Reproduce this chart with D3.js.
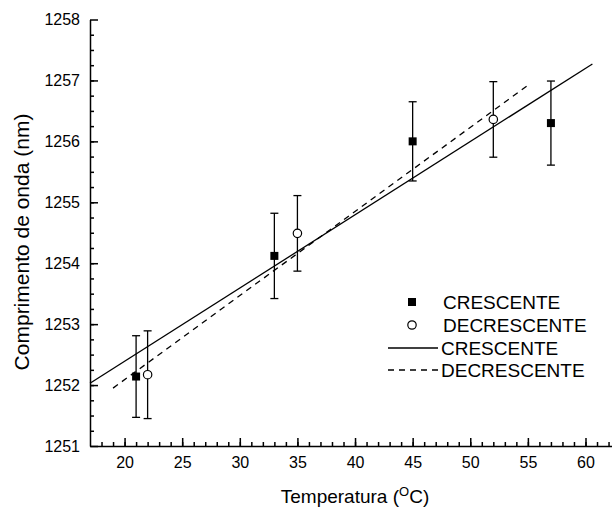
<!DOCTYPE html>
<html>
<head>
<meta charset="utf-8">
<script src="https://cdn.jsdelivr.net/npm/d3@7"></script>
<style>
  body { margin: 0; background: #fff; }
  svg { display: block; }
  .axis path, .axis line { stroke: #000; stroke-width: 1.5; }
  .axis text { font-family: "Liberation Sans", Arial, sans-serif; font-size: 16px; fill: #000; }
</style>
</head>
<body>
<div class="chart"></div>
<script>
// temperatures and wavelengths
var tempCresc = [21, 33, 45, 57];
var lambdaCresc = [1252.14, 1254.12, 1256.0, 1256.30];
var errCresc = [0.67, 0.70, 0.65, 0.69];

var tempDecresc = [22, 35, 52];
var lambdaDecresc = [1252.17, 1254.49, 1256.36];
var errDecresc = [0.72, 0.62, 0.62];

// fitted lines, endpoints as drawn
var fitCrescX = [17, 60.6];
var fitCrescY = [1252.03, 1257.27];
var fitDecrescX = [19, 55];
var fitDecrescY = [1251.95, 1256.92];

var xMajor = [20, 25, 30, 35, 40, 45, 50, 55, 60];
var yMajor = [1251, 1252, 1253, 1254, 1255, 1256, 1257, 1258];

var legendLabels = ['CRESCENTE', 'DECRESCENTE', 'CRESCENTE', 'DECRESCENTE'];

var width = 612, height = 509;
var plotLeft = 90, plotRight = 612, plotTop = 19.5, plotBottom = 446;

var x = d3.scaleLinear().domain([17, 62.3]).range([plotLeft, plotRight]);
var y = d3.scaleLinear().domain([1251, 1258]).range([plotBottom, plotTop]);

var svg = d3.select('.chart').append('svg')
  .attr('width', width)
  .attr('height', height);

var font = '"Liberation Sans", Arial, sans-serif';

// minor ticks
svg.append('g')
  .attr('class', 'axis')
  .attr('transform', 'translate(0,' + plotBottom + ')')
  .call(d3.axisBottom(x).tickValues(d3.range(18, 63, 1)).tickSize(-4).tickFormat(''))
  .select('.domain').remove();

svg.append('g')
  .attr('class', 'axis')
  .attr('transform', 'translate(' + plotLeft + ',0)')
  .call(d3.axisLeft(y).tickValues(d3.range(1251.25, 1258, 0.25)).tickSize(-4).tickFormat(''))
  .select('.domain').remove();

// major axes
svg.append('g')
  .attr('class', 'axis')
  .attr('transform', 'translate(0,' + plotBottom + ')')
  .call(d3.axisBottom(x).tickValues(xMajor).tickSizeInner(-8).tickSizeOuter(0).tickPadding(11).tickFormat(d3.format('d')));

svg.append('g')
  .attr('class', 'axis')
  .attr('transform', 'translate(' + plotLeft + ',0)')
  .call(d3.axisLeft(y).tickValues(yMajor).tickSizeInner(-8).tickSizeOuter(0).tickPadding(10).tickFormat(d3.format('d')));

// axis titles
var xt = svg.append('text')
  .attr('x', 355)
  .attr('y', 503)
  .attr('text-anchor', 'middle')
  .style('font-family', font)
  .style('font-size', '19px')
  .text('Temperatura (');
xt.append('tspan').attr('dy', -7).style('font-size', '13px').text('O');
xt.append('tspan').attr('dy', 7).text('C)');

svg.append('text')
  .attr('transform', 'translate(29,242) rotate(-90)')
  .attr('text-anchor', 'middle')
  .style('font-family', font)
  .style('font-size', '21px')
  .text('Comprimento de onda (nm)');

// fit lines
var line = d3.line()
  .x(function(d) { return x(d[0]); })
  .y(function(d) { return y(d[1]); });

svg.append('path')
  .datum(d3.zip(fitCrescX, fitCrescY))
  .attr('d', line)
  .attr('fill', 'none')
  .attr('stroke', '#000')
  .attr('stroke-width', 1.3);

svg.append('path')
  .datum(d3.zip(fitDecrescX, fitDecrescY))
  .attr('d', line)
  .attr('fill', 'none')
  .attr('stroke', '#000')
  .attr('stroke-width', 1.3)
  .attr('stroke-dasharray', '6,5');

// error bars
function errorBars(xs, ys, es) {
  var g = svg.append('g');
  var pts = d3.range(xs.length).map(function(i) {
    return {t: xs[i], v: ys[i], e: es[i]};
  });
  g.selectAll('.bar').data(pts).enter().append('line')
    .attr('x1', function(d) { return x(d.t); })
    .attr('x2', function(d) { return x(d.t); })
    .attr('y1', function(d) { return y(d.v + d.e); })
    .attr('y2', function(d) { return y(d.v - d.e); })
    .attr('stroke', '#000').attr('stroke-width', 1.3);
  g.selectAll('.capTop').data(pts).enter().append('line')
    .attr('x1', function(d) { return x(d.t) - 4; })
    .attr('x2', function(d) { return x(d.t) + 4; })
    .attr('y1', function(d) { return y(d.v + d.e); })
    .attr('y2', function(d) { return y(d.v + d.e); })
    .attr('stroke', '#000').attr('stroke-width', 1.3);
  g.selectAll('.capBot').data(pts).enter().append('line')
    .attr('x1', function(d) { return x(d.t) - 4; })
    .attr('x2', function(d) { return x(d.t) + 4; })
    .attr('y1', function(d) { return y(d.v - d.e); })
    .attr('y2', function(d) { return y(d.v - d.e); })
    .attr('stroke', '#000').attr('stroke-width', 1.3);
}
errorBars(tempCresc, lambdaCresc, errCresc);
errorBars(tempDecresc, lambdaDecresc, errDecresc);

// markers
svg.selectAll('.sq')
  .data(d3.zip(tempCresc, lambdaCresc))
  .enter().append('rect')
  .attr('x', function(d) { return x(d[0]) - 4; })
  .attr('y', function(d) { return y(d[1]) - 4; })
  .attr('width', 8)
  .attr('height', 8)
  .attr('fill', '#000');

svg.selectAll('.circ')
  .data(d3.zip(tempDecresc, lambdaDecresc))
  .enter().append('circle')
  .attr('cx', function(d) { return x(d[0]); })
  .attr('cy', function(d) { return y(d[1]); })
  .attr('r', 4.2)
  .attr('fill', '#fff')
  .attr('stroke', '#000')
  .attr('stroke-width', 1.2);

// legend
var leg = svg.append('g');
var rowY = [302, 325, 348, 370];
leg.append('rect').attr('x', 408).attr('y', rowY[0] - 4).attr('width', 8).attr('height', 8).attr('fill', '#000');
leg.append('circle').attr('cx', 412).attr('cy', rowY[1]).attr('r', 4.2)
  .attr('fill', '#fff').attr('stroke', '#000').attr('stroke-width', 1.2);
leg.append('line').attr('x1', 388).attr('x2', 438).attr('y1', rowY[2]).attr('y2', rowY[2])
  .attr('stroke', '#000').attr('stroke-width', 1.3);
leg.append('line').attr('x1', 388).attr('x2', 438).attr('y1', rowY[3]).attr('y2', rowY[3])
  .attr('stroke', '#000').attr('stroke-width', 1.3).attr('stroke-dasharray', '6,5');

leg.selectAll('.lab')
  .data(legendLabels)
  .enter().append('text')
  .attr('x', function(d, i) { return i < 2 ? 443 : 441; })
  .attr('y', function(d, i) { return rowY[i] + 7; })
  .style('font-family', font)
  .style('font-size', '19px')
  .text(function(d) { return d; });
</script>
</body>
</html>
